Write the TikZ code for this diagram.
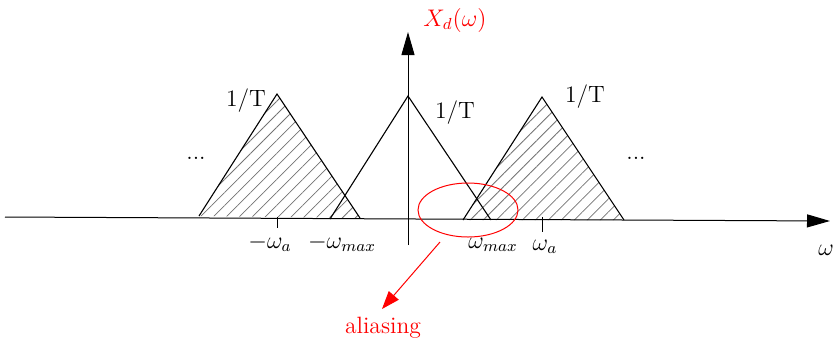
\documentclass[tikz,border=0pt]{standalone}
\usetikzlibrary{arrows.meta,patterns.meta,shapes.geometric}
\begin{document}
\begin{tikzpicture}[x=0.5pt,y=-0.5pt,
  lbl/.style={font=\fontsize{11.8}{14}\selectfont, inner sep=0pt},
  redlbl/.style={lbl, text=red},
  axisarrow/.style={-{Triangle[length=11.5pt,width=6.5pt]}, line width=0.5pt},
  hatchfill/.style={pattern={Lines[angle=45,distance=4.6pt,line width=0.4pt]}, pattern color=black!55},
  tri/.style={line width=0.55pt},
  redarrow/.style={red, line width=0.5pt, -{Triangle[length=9pt,width=6.5pt]}}]
\useasboundingbox (0,0) rectangle (835,339);
% coordinates
\coordinate (xl) at (5,217);
\coordinate (xr) at (830,221);
\coordinate (yb) at (408,245);
\coordinate (yt) at (408,32);
\coordinate (lA) at (199,216);
\coordinate (lT) at (277,94);
\coordinate (lB) at (360,218);
\coordinate (cA) at (330,219);
\coordinate (cT) at (408,96);
\coordinate (cB) at (491,220);
\coordinate (rA) at (463,220);
\coordinate (rT) at (542,97);
\coordinate (rB) at (624,220);
% hatched triangles
\fill[hatchfill] (lA) -- (lT) -- (lB) -- cycle;
\fill[hatchfill] (rA) -- (rT) -- (rB) -- cycle;
\draw[tri] (lA) -- (lT) -- (lB);
\draw[tri] (rA) -- (rT) -- (rB);
\draw[tri] (cA) -- (cT) -- (cB);
% axes
\draw[axisarrow] (xl) -- (xr);
\draw[axisarrow] (yb) -- (yt);
% ticks
\coordinate (t1a) at (277,217); \coordinate (t1b) at (277,228);
\coordinate (t2a) at (542,217); \coordinate (t2b) at (542,232);
\draw[line width=0.5pt] (t1a) -- (t1b);
\draw[line width=0.5pt] (t2a) -- (t2b);
% labels
\node[redlbl] (xd) at (455,20) {$X_d(\omega)$};
\node[lbl] (t1) at (246,101) {1/T};
\node[lbl] (t2) at (455,113) {1/T};
\node[lbl] (t3) at (585,97) {1/T};
\node[lbl] (d1) at (196,158) {...};
\node[lbl] (d2) at (636,158) {...};
\node[lbl] (wa1) at (270,243) {$-\omega_a$};
\node[lbl] (wm1) at (342,243) {$-\omega_{max}$};
\node[lbl] (wm2) at (493,245) {$\omega_{max}$};
\node[lbl] (wa2) at (545,247) {$\omega_a$};
\node[lbl] (w) at (826,250) {$\omega$};
% aliasing
\node[ellipse, draw=red, line width=0.5pt, minimum width=50pt, minimum height=27pt, inner sep=0pt] (ell) at (468,210) {};
\coordinate (aS) at (440,242);
\coordinate (aE) at (382,309);
\draw[redarrow] (aS) -- (aE);
\node[redlbl, anchor=base] (al) at (383,333) {aliasing};
\end{tikzpicture}
\end{document}
